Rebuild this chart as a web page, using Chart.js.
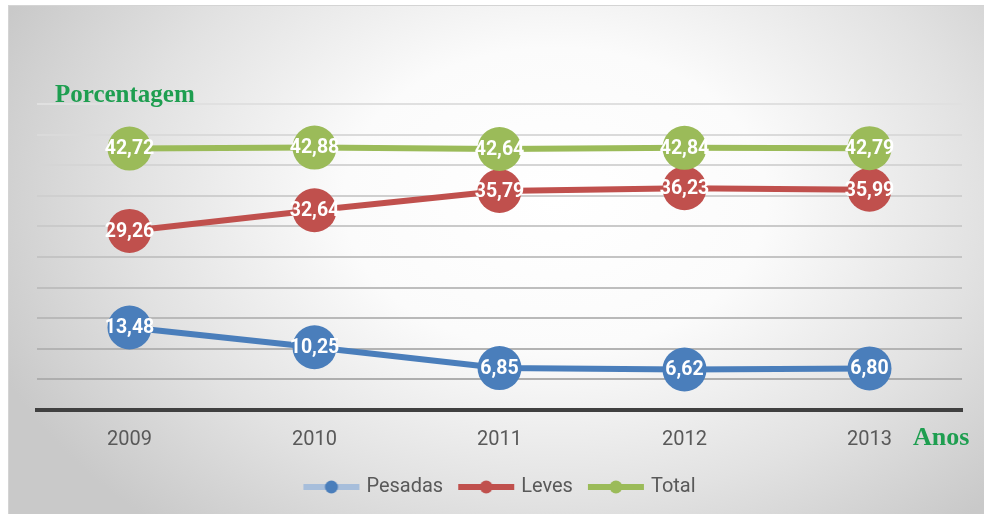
<!DOCTYPE html>
<html>
<head>
<meta charset="utf-8">
<script src="https://cdn.jsdelivr.net/npm/chart.js@4.4.1/dist/chart.umd.min.js"></script>
<style>
  html, body { margin:0; padding:0; background:#fff; }
  body { width:984px; height:515px; overflow:hidden; position:relative; }
  #panel {
    position:absolute; left:8px; top:5px; width:975px; height:508px;
    border-top:1px solid #d4d4d4; border-left:1px solid #d4d4d4;
    background: radial-gradient(ellipse 62% 85% at 56% 38%, #ffffff 0%, #fbfbfb 35%, #e2e2e2 70%, #c9c9c9 100%);
  }
  #c { position:absolute; left:0; top:0; }
</style>
</head>
<body>
<div id="panel"></div>
<canvas id="c" width="984" height="515"></canvas>
<script>
const years = ['2009', '2010', '2011', '2012', '2013']
const pesadas = [13.48, 10.25, 6.85, 6.62, 6.80]
const leves = [29.26, 32.64, 35.79, 36.23, 35.99]
const total = [42.72, 42.88, 42.64, 42.84, 42.79]
const seriesNames = ['Pesadas', 'Leves', 'Total']
const yTitle = 'Porcentagem'
const xTitle = 'Anos'

const blue = '#4a7ebb', red = '#c0504d', green = '#9bbb59'
const fmt = v => v.toFixed(2).replace('.', ',')

// little line-with-dot icons for the legend
function legendIcon(lineColor, dotColor){
  const cv = document.createElement('canvas')
  cv.width = 60; cv.height = 16
  const g = cv.getContext('2d')
  g.strokeStyle = lineColor; g.lineWidth = 6; g.lineCap = 'butt'
  g.beginPath(); g.moveTo(2, 8); g.lineTo(58, 8); g.stroke()
  g.fillStyle = dotColor
  g.beginPath(); g.arc(30, 8, 6.5, 0, Math.PI*2); g.fill()
  return cv
}
const icons = [legendIcon('#a7bedb', '#4a7ebb'), legendIcon(red, red), legendIcon(green, green)]

const valueLabels = {
  id:'valueLabels',
  afterDatasetsDraw(chart){
    const ctx = chart.ctx
    ctx.save()
    ctx.fillStyle = '#fff'
    ctx.font = 'bold 19.5px Roboto'
    ctx.textAlign = 'center'
    ctx.textBaseline = 'middle'
    chart.data.datasets.forEach((ds, i)=>{
      chart.getDatasetMeta(i).data.forEach((pt, j)=>{ ctx.fillText(fmt(ds.data[j]), pt.x, pt.y + 1) })
    })
    ctx.restore()
  }
}

const axisTitles = {
  id:'axisTitles',
  afterDraw(chart){
    const ctx = chart.ctx, a = chart.chartArea
    ctx.save()
    ctx.fillStyle = '#1e9e50'
    ctx.font = 'bold 25px "Liberation Serif"'
    ctx.textBaseline = 'alphabetic'
    ctx.textAlign = 'left'
    ctx.fillText(yTitle, a.left + 18, a.top - 2)
    ctx.font = 'bold 26px "Liberation Serif"'
    ctx.fillText(xTitle, a.right - 49, a.bottom + 35)
    ctx.restore()
  }
}

const gridShade = v => {
  const c = Math.round(168 + (v / 50) * 56)
  return `rgb(${c},${c},${c})`
}

new Chart(document.getElementById('c'), {
  type:'line',
  data:{
    labels: years,
    datasets:[
      { label: seriesNames[0], data: pesadas, borderColor: blue, backgroundColor: blue, order: 2 },
      { label: seriesNames[1], data: leves, borderColor: red, backgroundColor: red, order: 1 },
      { label: seriesNames[2], data: total, borderColor: green, backgroundColor: green, order: 0 }
    ].map(d => Object.assign(d, { borderWidth: 6, pointRadius: 22, pointHoverRadius: 22, pointBorderWidth: 0, tension: 0 }))
  },
  options:{
    responsive:false,
    animation:false,
    events:[],
    layout:{ padding:{ left:37, right:19, top:104, bottom:8 } },
    scales:{
      x:{
        offset:true,
        afterFit(scale){ scale.height = 49 },
        grid:{ display:false, drawTicks:false },
        border:{ display:true, color:'#404040', width:4 },
        ticks:{ color:'#595959', font:{ family:'Roboto', size:20 }, padding:18 }
      },
      y:{
        min:0, max:50,
        ticks:{ display:false, stepSize:5 },
        grid:{ drawTicks:false, lineWidth:2, color: c => gridShade(c.tick.value) },
        border:{ display:false }
      }
    },
    plugins:{
      tooltip:{ enabled:false },
      legend:{
        position:'bottom',
        labels:{
          usePointStyle:true,
          pointStyleWidth:50,
          padding:18,
          color:'#595959',
          font:{ family:'Roboto', size:20 },
          generateLabels(chart){
            return chart.data.datasets.map((ds, i)=>({
              text: ds.label, pointStyle: icons[i], datasetIndex: i,
              fillStyle: ds.borderColor, strokeStyle: ds.borderColor, lineWidth: 0, hidden: false, fontColor: '#595959'
            }))
          }
        }
      }
    }
  },
  plugins:[valueLabels, axisTitles]
})
</script>
</body>
</html>
